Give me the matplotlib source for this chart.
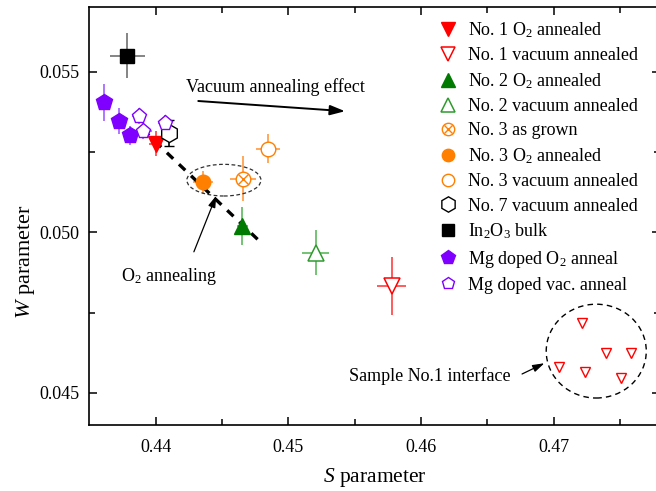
import matplotlib
matplotlib.use("Agg")
import matplotlib.pyplot as plt
from matplotlib.patches import Ellipse
from matplotlib.legend_handler import HandlerTuple

plt.rcParams['font.family'] = 'Liberation Serif'
plt.rcParams['mathtext.fontset'] = 'custom'
plt.rcParams['mathtext.rm'] = 'Liberation Serif'
plt.rcParams['mathtext.it'] = 'Liberation Serif:italic'

# S / W values with errors
no1_o2_s, no1_o2_w = [0.4400], [0.05276]
no1_o2_ds, no1_o2_dw = [0.0005], [0.0004]

no1_vac_s, no1_vac_w = [0.45781], [0.04832]
no1_vac_ds, no1_vac_dw = [0.0011], [0.0009]

no2_o2_s, no2_o2_w = [0.44653], [0.05019]
no2_o2_ds, no2_o2_dw = [0.0004], [0.0006]

no2_vac_s, no2_vac_w = [0.45206], [0.04936]
no2_vac_ds, no2_vac_dw = [0.001], [0.0007]

no3_grown_s, no3_grown_w = [0.44658], [0.05167]
no3_grown_ds, no3_grown_dw = [0.001], [0.0007]

no3_o2_s, no3_o2_w = [0.44356], [0.05155]
no3_o2_ds, no3_o2_dw = [0.00075], [0.00036]

no3_vac_s, no3_vac_w = [0.44846], [0.05260]
no3_vac_ds, no3_vac_dw = [0.00088], [0.00046]

no7_vac_s, no7_vac_w = [0.44100], [0.05309]
no7_vac_dw = [0.00041]

bulk_s, bulk_w = [0.43787], [0.05549]
bulk_ds, bulk_dw = [0.00134], [0.0007]

mg_o2_s = [0.43610, 0.43721, 0.43804]
mg_o2_w = [0.05404, 0.05347, 0.05302]
mg_o2_ds = [0.0004, 0.0004, 0.0004]
mg_o2_dw = [0.00057, 0.00041, 0.0003]

mg_vac_s = [0.43874, 0.43904, 0.44068]
mg_vac_w = [0.05361, 0.05314, 0.05340]
mg_vac_ds = [0.0005, 0.0007, 0.0005]
mg_vac_dw = [0.00025, 0.00025, 0.00025]

iface_s = [0.47216, 0.47391, 0.47580, 0.47044, 0.47240, 0.47509]
iface_w = [0.04718, 0.04625, 0.04625, 0.04582, 0.04565, 0.04547]

fig = plt.figure(figsize=(6.56, 4.91), dpi=100)
ax = fig.add_axes([0.136, 0.1344, 0.8698, 0.8507])

red, green, orange, purple = '#ff0000', '#007a00', '#ff7f00', '#7f00ff'

def ebar(s, w, ds, dw, col, **kw):
    ax.errorbar(s, w, xerr=ds, yerr=dw, fmt='none', ecolor=col, elinewidth=1.2, zorder=2, **kw)

ebar(bulk_s, bulk_w, bulk_ds, bulk_dw, '#707070')
ebar(mg_o2_s, mg_o2_w, mg_o2_ds, mg_o2_dw, '#a060ff')
ebar(mg_vac_s, mg_vac_w, mg_vac_ds, mg_vac_dw, '#a060ff')
ebar(no7_vac_s, no7_vac_w, None, no7_vac_dw, 'black', capsize=3.5, capthick=1)
ebar(no1_o2_s, no1_o2_w, no1_o2_ds, no1_o2_dw, '#ff4040')
ebar(no1_vac_s, no1_vac_w, no1_vac_ds, no1_vac_dw, '#ff4040')
ebar(no2_o2_s, no2_o2_w, no2_o2_ds, no2_o2_dw, '#5cb85c')
ebar(no2_vac_s, no2_vac_w, no2_vac_ds, no2_vac_dw, '#5cb85c')
ebar(no3_grown_s, no3_grown_w, no3_grown_ds, no3_grown_dw, '#ff9a40')
ebar(no3_o2_s, no3_o2_w, no3_o2_ds, no3_o2_dw, '#ff9a40')
ebar(no3_vac_s, no3_vac_w, no3_vac_ds, no3_vac_dw, '#ff9a40')

# trend line through the O2 annealed points
ax.plot([0.43904, 0.44784], [0.05319, 0.04972], color='black', lw=2.4,
        linestyle=(0, (2.6, 2.4)), zorder=4)

mk = dict(linestyle='none', zorder=5)
h1, = ax.plot(no1_o2_s, no1_o2_w, 'v', color=red, ms=12, **mk)
h2, = ax.plot(no1_vac_s, no1_vac_w, 'v', mfc='white', mec=red, mew=1.1, ms=12, **mk)
h3, = ax.plot(no2_o2_s, no2_o2_w, '^', color=green, ms=12, **mk)
h4, = ax.plot(no2_vac_s, no2_vac_w, '^', mfc='white', mec='#2e9a2e', mew=1.1, ms=12, **mk)
h5a, = ax.plot(no3_grown_s, no3_grown_w, 'o', mfc='white', mec=orange, mew=1.0, ms=10.5, **mk)
h5b, = ax.plot(no3_grown_s, no3_grown_w, 'x', color=orange, mew=1.0, ms=7.2, zorder=6, linestyle='none')
h6, = ax.plot(no3_o2_s, no3_o2_w, 'o', color=orange, ms=10.5, **mk)
h7, = ax.plot(no3_vac_s, no3_vac_w, 'o', mfc='white', mec=orange, mew=1.0, ms=10.5, **mk)
h8, = ax.plot(no7_vac_s, no7_vac_w, 'h', mfc='white', mec='black', mew=1.0, ms=13, **mk)
h9, = ax.plot(bulk_s, bulk_w, 's', color='black', ms=10, **mk)
h10, = ax.plot(mg_o2_s, mg_o2_w, 'p', color=purple, ms=12, **mk)
h11, = ax.plot(mg_vac_s, mg_vac_w, 'p', mfc='white', mec=purple, mew=1.0, ms=11, **mk)
ax.plot(iface_s, iface_w, 'v', mfc='white', mec=red, mew=1.0, ms=7, **mk)

# dashed ellipses
ax.add_patch(Ellipse((0.44515, 0.05162), 0.00558, 0.000985, fill=False,
                     ls=(0, (3, 2)), lw=0.9, ec='#303030', zorder=3))
ax.add_patch(Ellipse((0.47321, 0.0463), 0.00754, 0.00292, fill=False,
                     ls=(0, (4, 3)), lw=1.0, ec='black', zorder=3))

# annotations
ax.text(0.44226, 0.05453, 'Vacuum annealing effect', fontsize=13, va='center', ha='left')
ax.annotate('', xy=(0.45449, 0.05376), xytext=(0.44301, 0.05409),
            arrowprops=dict(arrowstyle='-|>,head_length=0.9,head_width=0.3', color='black', lw=1.4))
ax.text(0.43742, 0.04863, 'O$_2$ annealing', fontsize=13, va='center', ha='left')
ax.annotate('', xy=(0.44465, 0.05122), xytext=(0.44281, 0.04931),
            arrowprops=dict(arrowstyle='-|>,head_length=0.7,head_width=0.22', color='black', lw=0.9))
ax.text(0.45457, 0.04552, 'Sample No.1 interface', fontsize=13, va='center', ha='left')
ax.annotate('', xy=(0.46949, 0.04596), xytext=(0.46743, 0.04555),
            arrowprops=dict(arrowstyle='-|>,head_length=0.7,head_width=0.22', color='black', lw=0.9))

ax.set_xlim(0.435, 0.478)
ax.set_ylim(0.044, 0.057)
ax.set_xticks([0.44, 0.45, 0.46, 0.47])
ax.set_xticks([0.445, 0.455, 0.465, 0.475], minor=True)
ax.set_yticks([0.045, 0.050, 0.055])
ax.set_yticks([0.0475, 0.0525], minor=True)
ax.tick_params(which='both', direction='in', top=True, right=True, labelsize=13, width=1.1)
ax.tick_params(which='major', length=6)
ax.tick_params(which='minor', length=4)
ax.tick_params(axis='x', pad=10)
ax.tick_params(axis='y', pad=7)
for sp in ax.spines.values():
    sp.set_linewidth(1.2)

ax.set_xlabel('$S$ parameter', fontsize=15.5, labelpad=7)
ax.set_ylabel('$W$ parameter', fontsize=16)
ax.yaxis.set_label_coords(-0.092, 0.39)

handles = [h1, h2, h3, h4, (h5a, h5b), h6, h7, h8, h9, h10, h11]
labels = ['No. 1 O$_2$ annealed', 'No. 1 vacuum annealed', 'No. 2 O$_2$ annealed',
          'No. 2 vacuum annealed', 'No. 3 as grown', 'No. 3 O$_2$ annealed',
          'No. 3 vacuum annealed', 'No. 7 vacuum annealed', 'In$_2$O$_3$ bulk',
          'Mg doped O$_2$ anneal', 'Mg doped vac. anneal']
ax.legend(handles, labels, loc='upper left', bbox_to_anchor=(0.597, 0.990),
          frameon=False, fontsize=13, borderpad=0, handlelength=1.0,
          handletextpad=0.6, labelspacing=0.395, markerscale=0.85,
          handler_map={tuple: HandlerTuple(ndivide=1)})

fig.savefig('out.png', dpi=100)
